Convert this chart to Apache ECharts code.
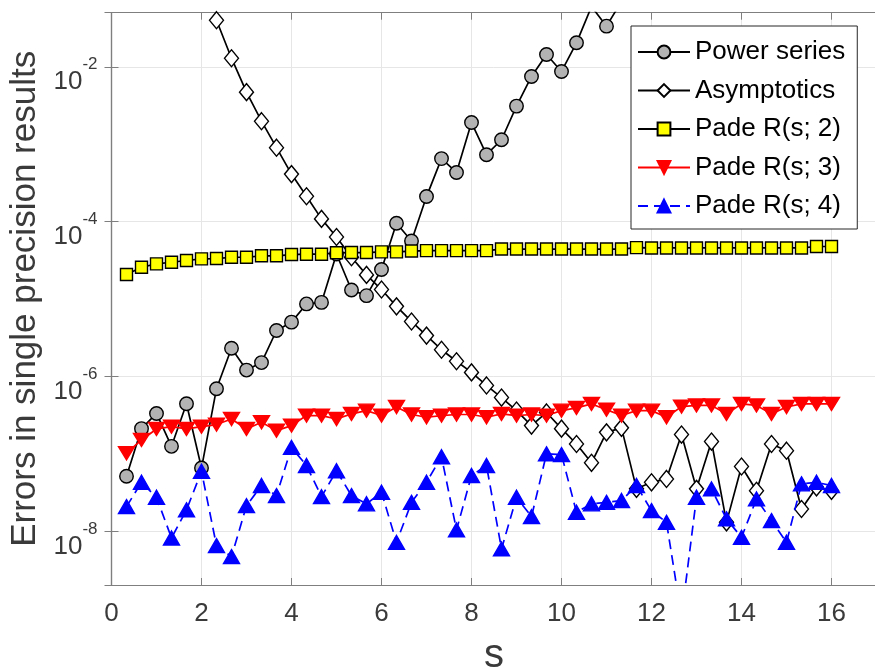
<!DOCTYPE html>
<html><head><meta charset="utf-8">
<script src="https://cdn.jsdelivr.net/npm/echarts@6/dist/echarts.min.js"></script>
<style>html,body{margin:0;padding:0;background:#fff}#c{width:875px;height:669px}</style>
</head><body><div id="c"></div>
<script>
const sValues = [0.3333,0.6667,1,1.3333,1.6667,2,2.3333,2.6667,3,3.3333,3.6667,4,4.3333,4.6667,5,5.3333,5.6667,6,6.3333,6.6667,7,7.3333,7.6667,8,8.3333,8.6667,9,9.3333,9.6667,10,10.3333,10.6667,11,11.3333,11.6667,12,12.3333,12.6667,13,13.3333,13.6667,14,14.3333,14.6667,15,15.3333,15.6667,16];

const powerSeries = [5.1e-8,2.1e-7,3.3e-7,1.24e-7,4.4e-7,6.5e-8,6.9e-7,2.3e-6,1.2e-6,1.5e-6,3.9e-6,5.0e-6,8.6e-6,9.0e-6,3.8e-5,1.3e-5,1.1e-5,2.4e-5,9.5e-5,5.6e-5,2.1e-4,6.5e-4,4.3e-4,1.9e-3,7.3e-4,1.14e-3,3.1e-3,7.5e-3,1.44e-2,8.7e-3,2.04e-2,6.0e-2,3.35e-2,7.0e-2,null,null,null,null,null,null,null,null,null,null,null,null,null,null];

const asymptotics = [null,null,null,null,null,null,4.0e-2,1.29e-2,4.7e-3,1.98e-3,9.0e-4,4.1e-4,2.12e-4,1.08e-4,6.3e-5,3.45e-5,2.04e-5,1.32e-5,8.0e-6,5.1e-6,3.35e-6,2.2e-6,1.56e-6,1.12e-6,7.6e-7,5.3e-7,3.6e-7,2.3e-7,3.4e-7,2.1e-7,1.33e-7,7.6e-8,1.88e-7,2.15e-7,3.5e-8,4.25e-8,4.7e-8,1.76e-7,3.5e-8,1.43e-7,1.29e-8,6.8e-8,3.3e-8,1.33e-7,1.09e-7,1.92e-8,3.66e-8,3.3e-8];

const pade2 = [2.06e-5,2.56e-5,2.83e-5,2.97e-5,3.13e-5,3.29e-5,3.32e-5,3.45e-5,3.45e-5,3.6e-5,3.6e-5,3.74e-5,3.78e-5,3.78e-5,3.94e-5,3.97e-5,3.97e-5,4.05e-5,4.05e-5,4.15e-5,4.2e-5,4.2e-5,4.2e-5,4.2e-5,4.2e-5,4.4e-5,4.4e-5,4.4e-5,4.4e-5,4.4e-5,4.4e-5,4.4e-5,4.4e-5,4.4e-5,4.6e-5,4.55e-5,4.55e-5,4.55e-5,4.55e-5,4.55e-5,4.55e-5,4.55e-5,4.55e-5,4.55e-5,4.55e-5,4.55e-5,4.75e-5,4.75e-5];

const pade3 = [1.01e-7,1.5e-7,2.08e-7,2.23e-7,2.08e-7,2.23e-7,2.37e-7,2.8e-7,2.08e-7,2.54e-7,1.98e-7,2.3e-7,3.1e-7,3.1e-7,2.8e-7,3.26e-7,3.59e-7,3.1e-7,4.0e-7,3.2e-7,2.95e-7,3.1e-7,3.2e-7,3.2e-7,2.95e-7,3.26e-7,3.1e-7,3.2e-7,3.1e-7,3.59e-7,3.89e-7,4.38e-7,3.7e-7,3.1e-7,3.59e-7,3.59e-7,2.95e-7,4.05e-7,4.19e-7,4.19e-7,3.26e-7,4.38e-7,4.19e-7,3.26e-7,4.0e-7,4.38e-7,4.38e-7,4.38e-7];

const pade4 = [2.06e-8,4.25e-8,2.72e-8,8.1e-9,1.87e-8,5.9e-8,6.45e-9,4.65e-9,2.12e-8,3.86e-8,2.86e-8,1.2e-7,7.0e-8,2.77e-8,6.0e-8,2.86e-8,2.24e-8,3.16e-8,7.1e-9,2.34e-8,4.25e-8,9.1e-8,1.03e-8,5.2e-8,7.0e-8,5.85e-9,2.72e-8,1.53e-8,9.9e-8,9.7e-8,1.74e-8,2.24e-8,2.34e-8,2.47e-8,3.86e-8,1.83e-8,1.29e-8,7.8e-10,2.72e-8,3.49e-8,1.43e-8,8.26e-9,2.59e-8,1.36e-8,7.13e-9,4.06e-8,4.25e-8,3.86e-8];

const seriesNames = ['Power series','Asymptotics','Pade R(s; 2)','Pade R(s; 3)','Pade R(s; 4)'];
const xTicks = [0,2,4,6,8,10,12,14,16];
const yTickExponents = [-8,-6,-4,-2];

const FONT = 'Liberation Sans, Arial, Helvetica, sans-serif';
const AX = '#7f7f7f';
const TXT = '#3a3a3a';

function pairs(arr){ return sValues.map((s,i)=>[s, arr[i]==null?'-':arr[i]]); }

function yLabel(v){
  const l = Math.log10(v), e = Math.round(l);
  if (Math.abs(l-e) > 1e-6 || yTickExponents.indexOf(e) < 0) return '';
  return '{b|10}{s|' + e + '}';
}
function xLabel(v){ return xTicks.indexOf(v) >= 0 ? String(v) : ''; }

function mk(name, arr, symbol, size, fill, edge, lineColor, dashed, rotate, z){
  return {
    name, type:'line', data: pairs(arr), xAxisIndex:0, yAxisIndex:0,
    symbol, symbolSize:size, symbolRotate: rotate||0, showSymbol:true, showAllSymbol:true,
    connectNulls:false, clip:true, z: z,
    lineStyle:{color:lineColor, width:1.7, type: dashed ? [10,6] : 'solid'},
    itemStyle:{color:fill, borderColor:edge, borderWidth:1.4, opacity:1},
    emphasis:{disabled:true}
  };
}

const axisCommon = {
  min:0, max:17, interval:2,
  axisLine:{show:true, lineStyle:{color:AX, width:1.2}},
  axisTick:{show:true, inside:true, length:7, lineStyle:{color:AX, width:1}},
};

const chart = echarts.init(document.getElementById('c'), null, {renderer:'canvas'});
chart.setOption({
  animation:false,
  backgroundColor:'#fff',
  grid:{left:111.5, top:12.7, width:765, height:572.3, containLabel:false, outerBoundsMode:'none'},
  xAxis:[
    Object.assign({type:'value', position:'bottom',
      name:'s', nameLocation:'middle', nameGap:51,
      nameTextStyle:{fontSize:40, fontFamily:FONT, color:TXT},
      axisLabel:{show:true, fontSize:26, fontFamily:FONT, color:TXT, margin:16, formatter:xLabel, showMaxLabel:false},
      splitLine:{show:true, lineStyle:{color:'#e6e6e6', width:1}}
    }, axisCommon),
    Object.assign({type:'value', position:'top', axisLabel:{show:false}, splitLine:{show:false}}, axisCommon)
  ],
  yAxis:[
    {type:'log', logBase:100, min:2e-9, max:0.05, position:'left',
      name:'Errors in single precision results', nameLocation:'middle', nameGap:69, nameRotate:90,
      nameTextStyle:{fontSize:35, fontFamily:FONT, color:TXT},
      axisLine:{show:true, lineStyle:{color:AX, width:1.2}},
      axisTick:{show:true, inside:true, length:7, lineStyle:{color:AX, width:1}},
      axisLabel:{show:true, margin:14, formatter:yLabel, padding:[18,0,0,0],
        rich:{
          b:{fontSize:26, fontFamily:FONT, color:TXT, padding:[13,0,0,0]},
          s:{fontSize:17, fontFamily:FONT, color:TXT, verticalAlign:'top'}
        }},
      splitLine:{show:true, lineStyle:{color:'#e6e6e6', width:1}}
    },
    {type:'log', logBase:100, min:2e-9, max:0.05, position:'right',
      axisLine:{show:true, lineStyle:{color:AX, width:1.2}},
      axisTick:{show:true, inside:true, length:7, lineStyle:{color:AX, width:1}},
      axisLabel:{show:false}, splitLine:{show:false}
    }
  ],
  legend:{
    orient:'vertical', left:631, top:26,
    data: seriesNames,
    backgroundColor:'#fff', borderColor:'#262626', borderWidth:1, borderRadius:0,
    padding:[13,12,10,6], itemGap:12.5, itemWidth:52, itemHeight:16,
    textStyle:{fontSize:26, fontFamily:FONT, color:'#000'},
    selectedMode:false
  },
  series:[
    mk(seriesNames[0], powerSeries, 'circle', 13.5, '#b3b3b3', '#000', '#000', false, 0, 2),
    mk(seriesNames[1], asymptotics, 'diamond', [14,17], '#fff', '#000', '#000', false, 0, 3),
    mk(seriesNames[2], pade2, 'rect', 12, '#ffff00', '#000', '#000', false, 0, 4),
    mk(seriesNames[3], pade3, 'triangle', [16,13], '#ff0000', '#ff0000', '#ff0000', false, 180, 5),
    mk(seriesNames[4], pade4, 'triangle', [16,14], '#0000ff', '#0000ff', '#0000ff', true, 0, 6)
  ]
});
</script></body></html>
